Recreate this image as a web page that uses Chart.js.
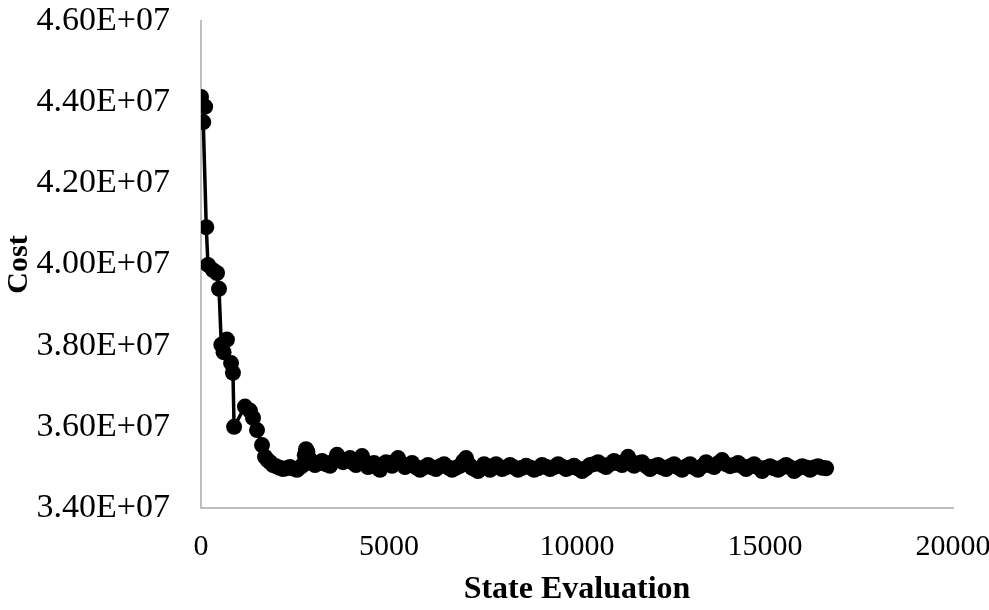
<!DOCTYPE html>
<html>
<head>
<meta charset="utf-8">
<script src="https://cdn.jsdelivr.net/npm/chart.js@4.4.1/dist/chart.umd.min.js"></script>
<style>
  html, body { margin: 0; padding: 0; background: #ffffff; }
  #wrap { width: 989px; height: 610px; }
</style>
</head>
<body>
<div id="wrap"><canvas id="costChart" width="989" height="610"></canvas></div>
<script>
// state evaluation index (x) and cost (y)
const stateEval = [
    0, 110, 60, 140, 186, 319, 426, 479, 540, 690, 600, 800, 850, 880,
    1170, 1300, 1383, 1490, 1623,
    1702, 1770, 1835, 1915, 1995, 2090, 2181, 2270, 2367, 2460, 2554, 2630,
    2713, 2760, 2793, 2830, 2873, 2950, 3032, 3120, 3219, 3320, 3431, 3520,
    3618, 3700, 3777, 3870, 3963, 4040, 4123, 4200, 4283, 4360, 4442, 4520,
    4602, 4680, 4761, 4840, 4921, 5000, 5081, 5160, 5240, 5330, 5426, 5520,
    5613, 5720, 5825, 5930, 6038, 6140, 6251, 6360, 6464, 6570, 6677, 6780,
    6889, 6970, 7049, 7130, 7209, 7290, 7368, 7450, 7528, 7610, 7687, 7770,
    7847, 7930, 8007, 8110, 8219, 8330, 8432, 8540, 8645, 8750, 8858, 8960,
    9071, 9180, 9283, 9390, 9496, 9600, 9709, 9820, 9922, 10030, 10135, 10240,
    10347, 10450, 10560, 10670, 10773, 10880, 10986, 11090, 11199, 11280,
    11358, 11440, 11518, 11620, 11731, 11840, 11943, 12050, 12156, 12260,
    12369, 12480, 12582, 12690, 12795, 12900, 13007, 13110, 13220, 13330,
    13433, 13540, 13646, 13750, 13859, 13960, 14071, 14180, 14284, 14390,
    14497, 14600, 14710, 14820, 14923, 15030, 15135, 15240, 15348, 15450,
    15561, 15670, 15774, 15880, 15987, 16090, 16199, 16300, 16412, 16520, 16625
];
const cost = [
    4.413e7, 4.389e7, 4.351e7, 4.092e7, 3.999e7, 3.986e7, 3.979e7, 3.940e7,
    3.802e7, 3.815e7, 3.784e7, 3.757e7, 3.733e7, 3.600e7,
    3.650e7, 3.640e7, 3.622e7, 3.592e7, 3.555e7,
    3.526e7, 3.518e7, 3.513e7, 3.506e7, 3.503e7, 3.499e7, 3.496e7, 3.498e7,
    3.501e7, 3.497e7, 3.494e7, 3.500e7, 3.506e7, 3.530e7, 3.545e7, 3.538e7,
    3.523e7, 3.512e7, 3.506e7, 3.510e7, 3.516e7, 3.508e7, 3.504e7, 3.515e7,
    3.531e7, 3.520e7, 3.513e7, 3.518e7, 3.523e7, 3.512e7, 3.506e7, 3.520e7,
    3.528e7, 3.512e7, 3.501e7, 3.506e7, 3.511e7, 3.500e7, 3.494e7, 3.505e7,
    3.513e7, 3.510e7, 3.504e7, 3.515e7, 3.523e7, 3.510e7, 3.501e7, 3.506e7,
    3.511e7, 3.500e7, 3.494e7, 3.500e7, 3.506e7, 3.500e7, 3.496e7, 3.503e7,
    3.508e7, 3.500e7, 3.494e7, 3.499e7, 3.504e7, 3.515e7, 3.523e7, 3.507e7,
    3.499e7, 3.495e7, 3.491e7, 3.500e7, 3.508e7, 3.502e7, 3.494e7, 3.502e7,
    3.508e7, 3.501e7, 3.496e7, 3.500e7, 3.506e7, 3.500e7, 3.494e7, 3.499e7,
    3.504e7, 3.500e7, 3.494e7, 3.498e7, 3.506e7, 3.501e7, 3.496e7, 3.501e7,
    3.508e7, 3.502e7, 3.496e7, 3.500e7, 3.504e7, 3.497e7, 3.491e7, 3.498e7,
    3.506e7, 3.508e7, 3.513e7, 3.506e7, 3.501e7, 3.508e7, 3.516e7, 3.510e7,
    3.506e7, 3.515e7, 3.526e7, 3.512e7, 3.504e7, 3.510e7, 3.513e7, 3.503e7,
    3.496e7, 3.502e7, 3.506e7, 3.500e7, 3.496e7, 3.503e7, 3.508e7, 3.500e7,
    3.494e7, 3.502e7, 3.508e7, 3.500e7, 3.494e7, 3.503e7, 3.513e7, 3.505e7,
    3.501e7, 3.510e7, 3.518e7, 3.508e7, 3.503e7, 3.506e7, 3.511e7, 3.503e7,
    3.496e7, 3.502e7, 3.508e7, 3.500e7, 3.491e7, 3.499e7, 3.503e7, 3.498e7,
    3.494e7, 3.500e7, 3.506e7, 3.500e7, 3.491e7, 3.498e7, 3.503e7, 3.500e7,
    3.494e7, 3.500e7, 3.503e7, 3.499e7, 3.498e7
];
const xTicks = [0, 5000, 10000, 15000, 20000];
const yTicks = [3.4e7, 3.6e7, 3.8e7, 4.0e7, 4.2e7, 4.4e7, 4.6e7];

const points = stateEval.map((x, i) => ({ x: x, y: cost[i] }));

// Excel style scientific label, e.g. 4.60E+07
function sci(v) {
    const exp = Math.floor(Math.log10(Math.abs(v)));
    const mant = (v / Math.pow(10, exp)).toFixed(2);
    return mant + 'E+' + String(exp).padStart(2, '0');
}

Chart.defaults.font.family = '"Liberation Serif", "Times New Roman", serif';
Chart.defaults.color = '#000000';

const ctx = document.getElementById('costChart').getContext('2d');
new Chart(ctx, {
    type: 'scatter',
    data: {
        datasets: [{
            label: 'Cost',
            data: points,
            showLine: true,
            borderColor: '#000000',
            borderWidth: 3.5,
            backgroundColor: '#000000',
            pointBackgroundColor: '#000000',
            pointBorderWidth: 0,
            pointRadius: 8,
            tension: 0
        }]
    },
    options: {
        responsive: false,
        animation: false,
        layout: { padding: 0 },
        plugins: {
            legend: { display: false },
            tooltip: { enabled: false }
        },
        scales: {
            x: {
                type: 'linear',
                min: 0,
                max: 20000,
                afterBuildTicks: (scale) => { scale.ticks = xTicks.map(v => ({ value: v })); },
                grid: { display: false, tickLength: 21 },
                border: { display: true, color: '#bfbfbf', width: 2 },
                ticks: {
                    padding: 0,
                    font: { size: 30 },
                    color: '#000000',
                    callback: (v) => String(v)
                },
                title: {
                    display: true,
                    text: 'State Evaluation',
                    font: { size: 32, weight: 'bold' },
                    color: '#000000',
                    padding: { top: 0, bottom: 1 }
                },
                afterFit: (scale) => {
                    scale.height = 102;
                    scale.paddingLeft = 0;
                    scale.paddingRight = 36;
                }
            },
            y: {
                type: 'linear',
                min: 3.4e7,
                max: 4.6e7,
                afterBuildTicks: (scale) => { scale.ticks = yTicks.map(v => ({ value: v })); },
                grid: { display: false, tickLength: 31 },
                border: { display: true, color: '#bfbfbf', width: 2 },
                ticks: {
                    padding: 0,
                    font: { size: 34 },
                    color: '#000000',
                    callback: (v) => sci(v)
                },
                title: {
                    display: true,
                    text: 'Cost',
                    font: { size: 30, weight: 'bold' },
                    color: '#000000',
                    padding: { top: 1, bottom: 0 }
                },
                afterFit: (scale) => {
                    scale.width = 201;
                    scale.paddingTop = 21;
                    scale.paddingBottom = 0;
                }
            }
        }
    }
});
</script>
</body>
</html>
